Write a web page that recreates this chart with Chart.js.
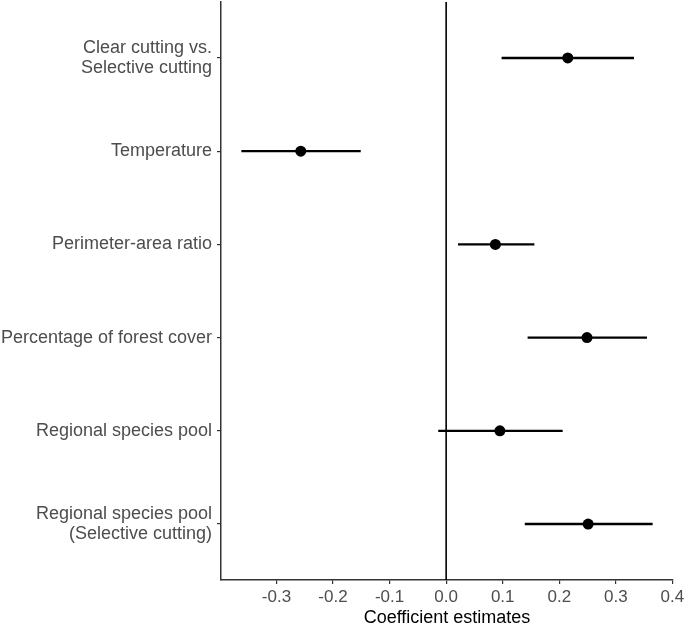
<!DOCTYPE html>
<html><head><meta charset="utf-8">
<script src="https://cdn.jsdelivr.net/npm/chart.js@4/dist/chart.umd.min.js"></script>
<style>html,body{margin:0;padding:0;background:#fff}#wrap{width:685px;height:627px}</style>
</head><body><div id="wrap"><canvas id="c" width="685" height="627"></canvas></div>
<script>
const categories = [["Clear cutting vs.","Selective cutting"],"Temperature","Perimeter-area ratio","Percentage of forest cover","Regional species pool",["Regional species pool","(Selective cutting)"]];
const estimates = [0.215,-0.257,0.087,0.249,0.095,0.251];
const lowerCI = [0.098,-0.362,0.021,0.144,-0.014,0.139];
const upperCI = [0.332,-0.151,0.156,0.355,0.206,0.365];
const xTicks = [-0.3,-0.2,-0.1,0.0,0.1,0.2,0.3,0.4];
const xTitle = "Coefficient estimates";

const FONT = "'Liberation Sans', Arial, Helvetica, sans-serif";
const datasets = [];
datasets.push({data:[{x:0,y:0.4},{x:0,y:6.6}], showLine:true, borderColor:'#000', borderWidth:1.6, pointRadius:0});
categories.forEach((c,i)=>{
  datasets.push({data:[{x:lowerCI[i],y:i+1},{x:upperCI[i],y:i+1}], showLine:true, borderColor:'#000', borderWidth:2.4, pointRadius:0});
});
datasets.push({data:estimates.map((v,i)=>({x:v,y:i+1})), pointRadius:5.5, pointBackgroundColor:'#000', pointBorderWidth:0, showLine:false});

new Chart(document.getElementById('c'), {
  type:'scatter',
  data:{datasets},
  options:{
    responsive:false, animation:false, devicePixelRatio:1,
    layout:{autoPadding:false, padding:{top:2,right:12,left:0,bottom:0}},
    plugins:{legend:{display:false}, tooltip:{enabled:false}},
    scales:{
      x:{type:'linear', min:-0.398, max:0.401,
        afterBuildTicks:(s)=>{s.ticks = xTicks.map(v=>({value:v}));},
        afterFit:(s)=>{s.height = 47; s.paddingLeft = 0; s.paddingRight = 0;},
        ticks:{color:'#4D4D4D', font:{family:FONT,size:17}, padding:3, maxRotation:0, autoSkip:false,
          callback:(v)=>Number(v).toFixed(1)},
        grid:{drawOnChartArea:false, tickLength:4, color:'#333', lineWidth:1.2},
        border:{color:'#333', width:1.5},
        title:{display:true, text:xTitle, color:'#000', font:{family:FONT,size:18,lineHeight:1}, padding:{top:0,bottom:0}}
      },
      y:{type:'linear', min:0.4, max:6.6, reverse:true,
        afterBuildTicks:(s)=>{s.ticks = categories.map((c,i)=>({value:i+1}));},
        afterFit:(s)=>{s.width = 221; s.paddingTop = 0; s.paddingBottom = 0;},
        ticks:{color:'#4D4D4D', font:{family:FONT,size:18,lineHeight:1.1}, padding:5, autoSkip:false,
          callback:(v)=>categories[Math.round(v)-1]},
        grid:{drawOnChartArea:false, tickLength:4, color:'#333', lineWidth:1.2},
        border:{color:'#333', width:1.5}
      }
    }
  }
});
</script></body></html>
